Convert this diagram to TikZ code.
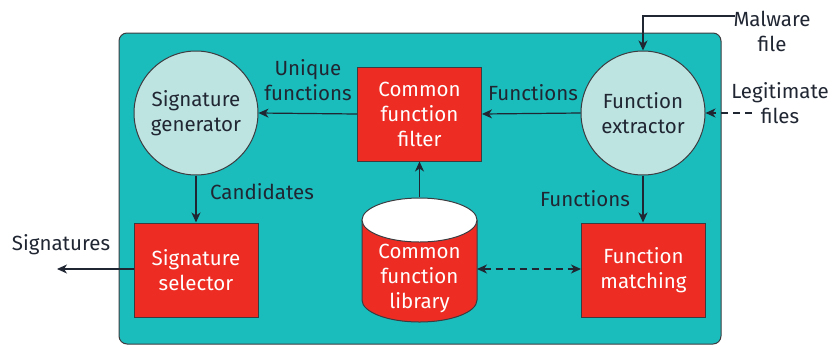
\documentclass[tikz,border=0pt]{standalone}
\usepackage{fontspec}
\setmainfont{Fira Sans}
\usetikzlibrary{arrows.meta}
\definecolor{teal1}{RGB}{27,188,188}
\definecolor{circfill}{RGB}{190,228,226}
\definecolor{boxred}{RGB}{237,45,36}
\definecolor{ink}{RGB}{32,38,50}
\definecolor{edge}{RGB}{60,60,64}
\tikzset{
  every node/.style={font=\fontsize{20.5}{25}\selectfont, text=ink},
  circ/.style={circle, draw=edge, line width=1pt, fill=circfill, minimum size=124pt, inner sep=0pt, align=center},
  redbox/.style={rectangle, draw=edge, line width=1pt, fill=boxred, minimum width=124pt, minimum height=94pt, inner sep=0pt, align=center, text=white},
  lbl/.style={align=center, inner sep=0pt},
  conn/.style={draw=ink, line width=1.2pt, -{Stealth[length=10pt,width=9pt,inset=3pt]}},
  dconn/.style={conn, dashed, dash pattern=on 7pt off 5pt},
}
\begin{document}
\begin{tikzpicture}[x=1pt,y=-1pt]
\useasboundingbox (0,0) rectangle (832,346);
% panel
\draw[edge, line width=1pt, fill=teal1, rounded corners=8pt] (119,33) rectangle (721,344);
% nodes
\node[circ] (gen) at (196,113) {Signature\\generator};
\node[circ] (ext) at (643,113) {Function\\extractor};
\node[redbox] (filt) at (419.5,114) {Common\\function\\filter};
\node[redbox] (sel) at (196,270) {Signature\\selector};
\node[redbox] (match) at (643.5,270) {Function\\matching};
% cylinder
\filldraw[fill=boxred, draw=edge, line width=1pt] (362,220) -- (362,300) arc[start angle=180, end angle=360, x radius=57.5pt, y radius=22pt] -- (477,220);
\filldraw[fill=white, draw=edge, line width=1pt] (419.5,220) ellipse [x radius=57.5pt, y radius=22pt];
\node[minimum width=115pt, minimum height=126pt, inner sep=0pt] (lib) at (419.5,260) {};
\node[lbl, text=white] at (419.5,278) {Common\\function\\library};
% external coordinates
\coordinate (mw) at (735,16);
\coordinate (lf) at (752,113);
\coordinate (sig) at (57,269);
% labels
\node[lbl] at (308,80) {Unique\\functions};
\node[lbl] at (533,93) {Functions};
\node[lbl] at (262,192) {Candidates};
\node[lbl] at (585,199) {Functions};
\node[lbl] at (61,245) {Signatures};
\node[lbl] at (772,31) {Malware\\file};
\node[lbl] at (780,103) {Legitimate\\files};
% connectors
\draw[conn] (filt.west) -- (gen.east);
\draw[conn] (ext.west) -- (filt.east);
\draw[conn] (lib.north) -- (filt.south);
\draw[conn] (gen.south) -- (sel.north);
\draw[conn] (ext.south) -- (ext.south |- match.north);
\draw[dconn, {Stealth[length=10pt,width=9pt,inset=3pt]}-{Stealth[length=10pt,width=9pt,inset=3pt]}] (477,269) -- (match.west |- 0,269);
\draw[conn] (sel.west |- 0,269) -- (sig);
\draw[conn] (mw) -- (ext.north |- mw) -- (ext.north);
\draw[dconn] (lf) -- (ext.east);
\end{tikzpicture}
\end{document}
